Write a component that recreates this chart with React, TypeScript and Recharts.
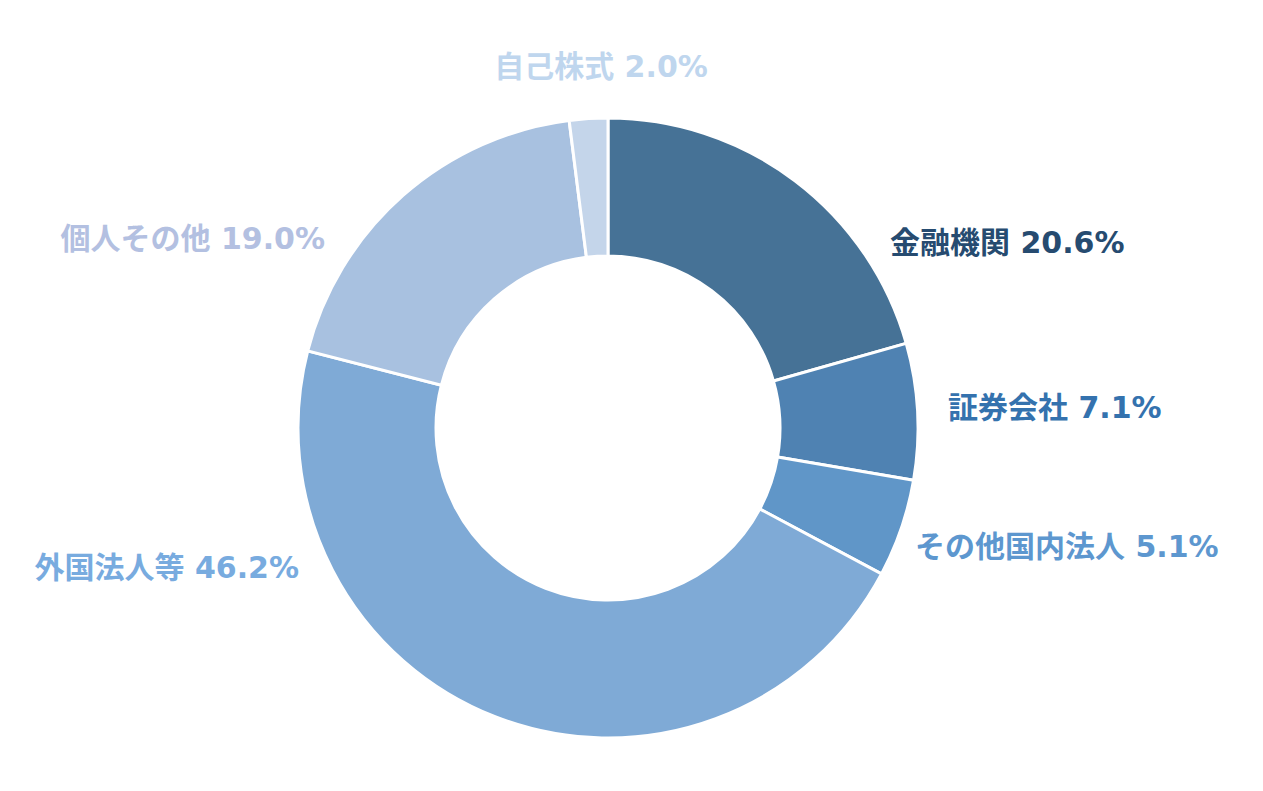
import React from "react";
import { Cell, Pie, PieChart } from "recharts";

const categories = ["金融機関", "証券会社", "その他国内法人", "外国法人等", "個人その他", "自己株式"];
const shares = [20.6, 7.1, 5.1, 46.2, 19.0, 2.0];
const sliceColors = ["#467296", "#4f82b2", "#6096c8", "#7faad6", "#a8c1e0", "#c4d5ea"];
const labelColors = ["#264b70", "#3472ae", "#5d97cf", "#78abdf", "#b3c0e1", "#bfd6ee"];

// label placement relative to the doughnut centre (labels were hand-placed in the original)
const labelPlacement: { dx: number; dy: number; anchor: "start" | "middle" | "end" }[] = [
  { dx: 282, dy: -186, anchor: "start" },
  { dx: 340, dy: -21, anchor: "start" },
  { dx: 307, dy: 118, anchor: "start" },
  { dx: -309, dy: 139, anchor: "end" },
  { dx: -283, dy: -190, anchor: "end" },
  { dx: -7, dy: -362, anchor: "middle" }
];

const data = categories.map((name, i) => ({ name, value: shares[i] }));

function renderLabel(props: any) {
  const { cx, cy, index } = props;
  const p = labelPlacement[index];
  return (
    <text
      x={cx + p.dx}
      y={cy + p.dy}
      textAnchor={p.anchor}
      dominantBaseline="central"
      fill={labelColors[index]}
      fontSize={30}
      fontWeight={700}
      fontFamily="'DejaVu Sans', 'Noto Sans CJK JP', sans-serif"
    >
      {`${data[index].name} ${data[index].value.toFixed(1)}%`}
    </text>
  );
}

export default function App() {
  return (
    <div style={{ position: "absolute", left: 0, top: 0, width: 1263, height: 791, background: "#fff" }}>
      <PieChart width={1263} height={791} margin={{ top: 0, right: 0, bottom: 0, left: 0 }}>
        <Pie
          data={data}
          dataKey="value"
          nameKey="name"
          cx={608}
          cy={428}
          innerRadius={172}
          outerRadius={310}
          startAngle={90}
          endAngle={-270}
          stroke="#ffffff"
          strokeWidth={3}
          label={renderLabel}
          labelLine={false}
          isAnimationActive={false}
        >
          {data.map((d, i) => (
            <Cell key={d.name} fill={sliceColors[i]} />
          ))}
        </Pie>
      </PieChart>
    </div>
  );
}
